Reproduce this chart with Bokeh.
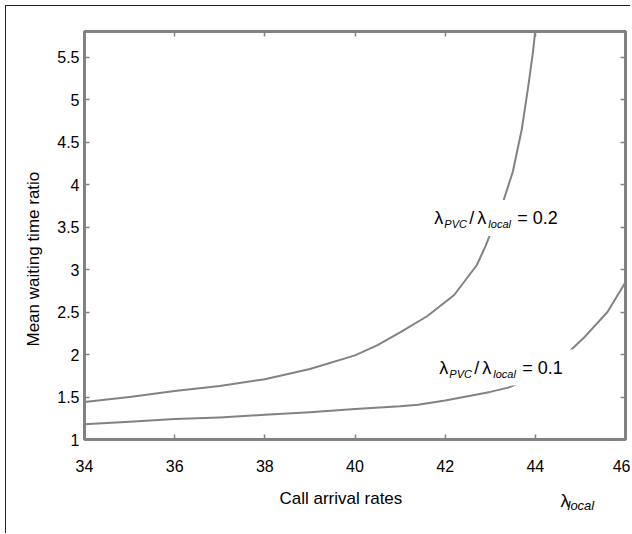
from bokeh.plotting import figure
from bokeh.models import Range1d, LinearAxis, FixedTicker, Label, Title
from bokeh.embed import file_html
from bokeh.resources import INLINE

# ---- data ----
rate_02 = [34, 35, 36, 37, 38, 39, 40, 40.5, 41, 41.6, 42.2, 42.7, 42.9, 43.3, 43.5, 43.7, 43.85, 43.95, 44.0]
ratio_02 = [1.44, 1.50, 1.57, 1.63, 1.71, 1.83, 1.99, 2.11, 2.26, 2.45, 2.70, 3.05, 3.28, 3.82, 4.15, 4.65, 5.18, 5.57, 5.82]

rate_01 = [34, 35, 36, 37, 38, 39, 40, 41, 41.4, 42, 42.5, 43, 43.4, 44, 44.4, 44.8, 45.1, 45.6, 46]
ratio_01 = [1.18, 1.21, 1.24, 1.26, 1.29, 1.32, 1.36, 1.39, 1.41, 1.46, 1.51, 1.56, 1.61, 1.74, 1.88, 2.06, 2.21, 2.50, 2.85]

x_ticks = [34, 36, 38, 40, 42, 44, 46]
x_tick_labels = ["34", "36", "38", "40", "42", "44", "46"]
y_ticks = [1, 1.5, 2, 2.5, 3, 3.5, 4, 4.5, 5, 5.5]
y_tick_labels = ["1", "1.5", "2", "2.5", "3", "3.5", "4", "4.5", "5", "5.5"]

x_title = "Call arrival rates"
y_title = "Mean waiting time ratio"
curve_values = ["0.2", "0.1"]

FONT = "Liberation Sans"
GRAY = "#828282"

p = figure(frame_width=541, frame_height=408,
           x_range=Range1d(34, 46), y_range=Range1d(1, 5.8),
           output_backend="svg", toolbar_location=None,
           min_border_left=78, min_border_right=5,
           min_border_top=25, min_border_bottom=94)
p.styles = {"border-left": "1.5px solid #222", "border-top": "1.5px solid #222",
            "margin-left": "5px", "margin-top": "5px"}

p.xgrid.grid_line_color = None
p.ygrid.grid_line_color = None
p.outline_line_color = GRAY
p.outline_line_width = 3
p.background_fill_color = "white"
p.border_fill_color = "white"


def style_axis(ax, ticks, labels, standoff, show):
    ax.ticker = FixedTicker(ticks=ticks)
    ax.axis_line_color = None
    ax.major_tick_in = 5
    ax.major_tick_out = 0
    ax.major_tick_line_color = GRAY
    ax.major_tick_line_width = 1.5
    ax.minor_tick_line_color = None
    ax.major_label_text_font = FONT
    ax.major_label_text_color = "black"
    if show:
        ax.major_label_overrides = {t: l for t, l in zip(ticks, labels)}
        ax.major_label_text_font_size = "16px"
        ax.major_label_standoff = standoff
    else:
        ax.major_label_text_font_size = "0px"
        ax.major_label_standoff = 0


style_axis(p.xaxis[0], x_ticks, x_tick_labels, 20, True)
style_axis(p.yaxis[0], y_ticks, y_tick_labels, 5, True)
top_ax = LinearAxis()
right_ax = LinearAxis()
style_axis(top_ax, x_ticks, x_tick_labels, 0, False)
style_axis(right_ax, y_ticks, y_tick_labels, 0, False)
p.add_layout(top_ax, "above")
p.add_layout(right_ax, "right")

p.line(rate_02, ratio_02, line_color=GRAY, line_width=2, line_join="round")
p.line(rate_01, ratio_01, line_color=GRAY, line_width=2, line_join="round")


def ratio_label(x, y, val):
    p.add_layout(Label(x=x, y=y, x_offset=-12, text="λPVC / λlocal = " + val,
                       text_font=FONT, text_font_size="18px", text_color="white",
                       text_baseline="middle", background_fill_color="white",
                       border_line_color=None, padding=8))
    parts = [("λ", 0, "18px", "normal", 0),
             ("PVC", 10, "11px", "italic", -6),
             ("/", 35, "18px", "normal", 0),
             ("λ", 43, "18px", "normal", 0),
             ("local", 54, "11px", "italic", -6),
             ("= " + val, 83, "18px", "normal", 0)]
    for txt, dx, size, style, dy in parts:
        p.add_layout(Label(x=x, y=y, x_offset=dx, y_offset=dy, text=txt,
                           text_font=FONT, text_font_size=size, text_font_style=style,
                           text_color="black", text_baseline="middle", text_align="left"))


ratio_label(41.76, 3.606, curve_values[0])
ratio_label(41.87, 1.847, curve_values[1])


def side_title(text, loc, offset, standoff, size, style="normal"):
    p.add_layout(Title(text=text, align="left", offset=offset, standoff=standoff,
                       text_font=FONT, text_font_size=size, text_font_style=style,
                       text_color="black"), loc)


side_title(y_title, "left", 93, 23, "17px")
side_title(x_title, "below", 195, -66, "17px")
side_title("λ", "below", 476, -73, "18px")
side_title("local", "below", 483, -77, "13px", "italic")

open("out.html", "w").write(file_html(p, INLINE))
